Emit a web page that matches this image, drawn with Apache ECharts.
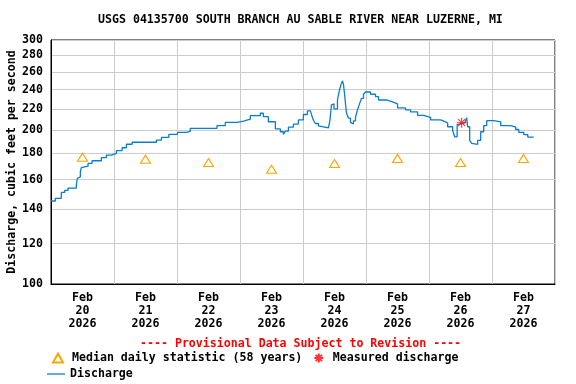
<!DOCTYPE html>
<html>
<head>
<meta charset="utf-8">
<script src="https://cdn.jsdelivr.net/npm/echarts@6/dist/echarts.min.js"></script>
<style>html,body{margin:0;padding:0;background:#fff;}#chart{width:576px;height:384px;}</style>
</head>
<body>
<div id="chart"></div>
<script>
// Discharge: hours after 2026-02-20 00:00 and flow (cfs), step levels
var flowHours = [0,1.64,3.93,5.23,6.49,9.65,10.04,10.57,11.18,11.56,12.21,14.12,15.64,19.19,21.10,23.01,24.92,27.09,28.73,30.91,40.18,42.09,44.91,48.19,51.51,53.04,63.22,66.39,70.86,73.37,75.93,79.75,80.89,82.80,85.47,87.38,88.53,89.29,90.43,92.34,94.25,96.15,97.68,98.82,99.21,99.97,100.73,101.88,102.64,105.69,106.26,106.84,107.41,107.79,109.13,109.89,110.65,111.03,111.42,111.80,112.18,112.56,113.32,114.09,114.66,115.23,116.0,116.76,117.52,118.28,119.05,119.81,121.72,123.63,124.77,127.82,130.11,132.02,135.07,136.98,139.65,141.94,144.61,148.43,150.33,151.10,153.01,153.77,154.72,155.30,157.59,158.35,158.73,159.50,160.26,161.02,162.54,163.69,164.83,165.98,168.65,171.32,175.14,177.04,178.19,180.10,181.62,183.91];
var flowValues = [145.3,147.1,151,152.5,154,156,161,162,165.8,168.8,170,172.2,174.2,176.6,178.7,180.1,182.3,184.7,187.6,189.3,191.2,193.6,196.2,198,198.8,201.5,204,207,208.3,210,213.4,215.7,212.5,207.6,201,198.5,196.2,199,202.6,205.5,209.3,214.5,218,219,214.5,209,206,203.7,202,201,209,224,225,220,229,239.5,247,249.5,245.5,236,225.5,216,211,207,205.5,208.5,212,219,225,230.6,235,237.4,235,232.5,229,227,225,221,219,217,213.7,211.8,209.3,207.5,206.5,203,199.5,194,205,206.5,208,211.5,203,191,188.4,187.6,191,198.5,204,208.6,207.6,204,202.6,200.5,198,196,193.8,193.8];
// Median daily statistic (58 years), one per day at noon
var medianDays = ['2026-02-20','2026-02-21','2026-02-22','2026-02-23','2026-02-24','2026-02-25','2026-02-26','2026-02-27'];
var medianValues = [177, 175.4, 172.8, 167.6, 172, 176, 172.8, 176];
// Measured discharge
var measuredHours = [156.44];
var measuredValues = [206.7];
// Axis ticks
var yTicks = [100,120,140,160,180,200,220,240,260,280,300];
var titleText = 'USGS 04135700 SOUTH BRANCH AU SABLE RIVER NEAR LUZERNE, MI';
var noteText = '---- Provisional Data Subject to Revision ----';

var H = 3600 * 1000;
var DAY = 24 * H;
var t0 = Date.UTC(2026, 1, 20, 0, 0);
var flowData = flowHours.map(function (h, i) { return [t0 + h * H, flowValues[i]]; });
var medianData = medianDays.map(function (d, i) {
  var p = d.split('-');
  return [Date.UTC(+p[0], +p[1] - 1, +p[2], 12, 0), medianValues[i]];
});
var measuredData = measuredHours.map(function (h, i) { return [t0 + h * H, measuredValues[i]]; });
var midnights = [], noons = [];
for (var d = 0; d <= 8; d++) midnights.push(t0 + d * DAY);
for (var d2 = 0; d2 < 8; d2++) noons.push(t0 + d2 * DAY + 12 * H);
var months = ['Jan','Feb','Mar','Apr','May','Jun','Jul','Aug','Sep','Oct','Nov','Dec'];
var FONT = 'DejaVu Sans Mono';
var FS = 11.6;
var LINE_COLOR = '#0a7dd0';

var chart = echarts.init(document.getElementById('chart'));
chart.setOption({
  animation: false,
  backgroundColor: '#fff',
  title: [
    { text: titleText, left: 93, top: 9, padding: 5, textStyle: { fontFamily: FONT, fontSize: FS, fontWeight: 'bold', color: '#000' } },
    { text: noteText, left: 135, top: 333, padding: 5, textStyle: { fontFamily: FONT, fontSize: FS, fontWeight: 'bold', color: '#ff0000' } }
  ],
  grid: { left: 51, right: 21, top: 40, bottom: 100, outerBoundsMode: 'none', containLabel: false, show: true, borderColor: '#000', borderWidth: 1, backgroundColor: 'transparent' },
  xAxis: {
    type: 'value', min: t0, max: t0 + 8 * DAY, interval: DAY,
    axisLine: { show: true, onZero: false, lineStyle: { color: '#000', width: 1 } },
    axisTick: { show: false, customValues: midnights },
    splitLine: { show: true, lineStyle: { color: '#cccccc', width: 1 } },
    axisLabel: {
      customValues: noons, margin: 7, lineHeight: 13,
      fontFamily: FONT, fontSize: FS, fontWeight: 'bold', color: '#000',
      formatter: function (v) {
        var dt = new Date(v);
        return months[dt.getUTCMonth()] + '\n' + dt.getUTCDate() + '\n' + dt.getUTCFullYear();
      }
    }
  },
  yAxis: {
    type: 'log', logBase: 10, min: 100, max: 300,
    name: 'Discharge, cubic feet per second', nameLocation: 'middle', nameGap: 33, nameRotate: 90, nameMoveOverlap: false,
    nameTextStyle: { fontFamily: FONT, fontSize: FS, fontWeight: 'bold', color: '#000' },
    axisLine: { show: true, lineStyle: { color: '#000', width: 1 } },
    axisTick: { show: false, customValues: yTicks },
    splitLine: { show: true, lineStyle: { color: '#cccccc', width: 1 } },
    axisLabel: { customValues: yTicks, margin: 8, fontFamily: FONT, fontSize: FS, fontWeight: 'bold', color: '#000', formatter: function (v) { return String(Math.round(v)); } }
  },
  legend: [
    {
      data: ['Median daily statistic (58 years)', 'Measured discharge'],
      left: 52, top: 352, padding: 0, orient: 'horizontal', itemWidth: 10, itemHeight: 9, itemGap: 11,
      selectedMode: false,
      textStyle: { fontFamily: FONT, fontSize: FS, fontWeight: 'bold', color: '#000', padding: [0, 0, 0, 4] }
    },
    {
      data: [{ name: 'Discharge', icon: 'rect', itemStyle: { color: LINE_COLOR } }],
      left: 47, top: 368, padding: 0, itemWidth: 18, itemHeight: 1.3, selectedMode: false,
      textStyle: { fontFamily: FONT, fontSize: FS, fontWeight: 'bold', color: '#000' }
    }
  ],
  series: [
    {
      name: 'Discharge', type: 'line', data: flowData, step: 'end', symbol: 'none', showSymbol: false,
      lineStyle: { color: LINE_COLOR, width: 1.3 }, itemStyle: { color: LINE_COLOR }, z: 3
    },
    {
      name: 'Median daily statistic (58 years)', type: 'scatter', data: medianData,
      symbol: 'triangle', symbolSize: [10, 8],
      itemStyle: { color: 'rgba(255,255,255,0)', borderColor: '#ffa500', borderWidth: 1.1, opacity: 1 }, z: 4
    },
    {
      name: 'Measured discharge', type: 'scatter', data: measuredData,
      symbol: 'path://M5,0L5,10M0,5L10,5M1.5,1.5L8.5,8.5M8.5,1.5L1.5,8.5', symbolSize: 10,
      itemStyle: { color: '#ff0000', borderColor: '#ff0000', borderWidth: 1.1 }, z: 5
    }
  ]
});
</script>
</body>
</html>
